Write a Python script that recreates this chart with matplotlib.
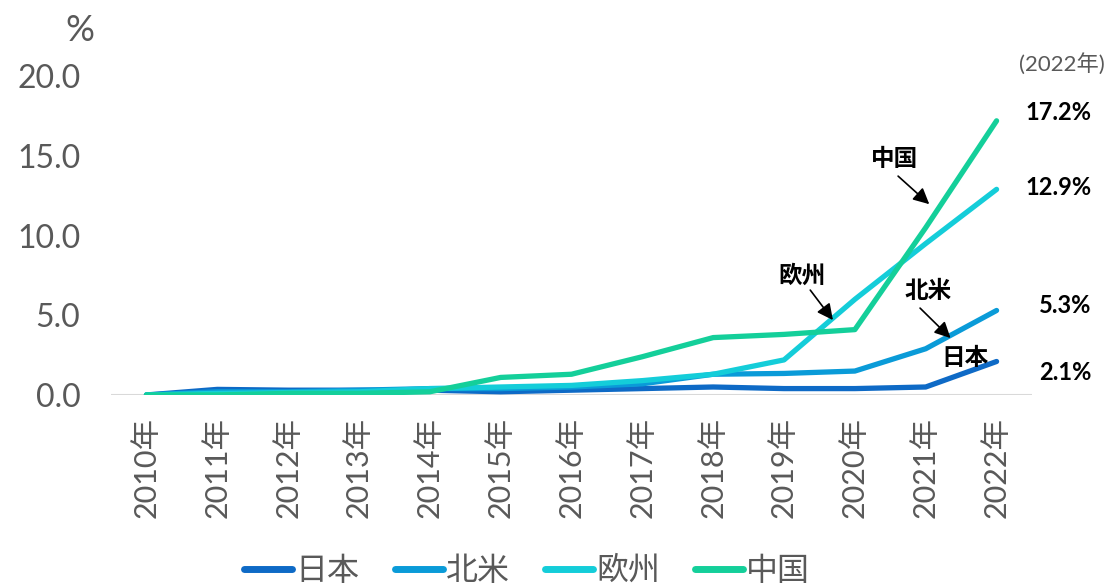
import matplotlib.pyplot as plt
import numpy as np

plt.rcParams['font.family'] = ['Lato', 'Noto Sans CJK JP', 'DejaVu Sans']

years = ["2010年", "2011年", "2012年", "2013年", "2014年", "2015年", "2016年",
         "2017年", "2018年", "2019年", "2020年", "2021年", "2022年"]
regions = ["日本", "北米", "欧州", "中国"]
japan = [0.0, 0.35, 0.3, 0.3, 0.3, 0.2, 0.3, 0.4, 0.5, 0.4, 0.4, 0.5, 2.1]
north_america = [0.0, 0.2, 0.2, 0.3, 0.4, 0.4, 0.5, 0.7, 1.3, 1.35, 1.5, 2.9, 5.3]
europe = [0.0, 0.1, 0.15, 0.2, 0.4, 0.5, 0.6, 0.9, 1.3, 2.2, 6.0, 9.5, 12.9]
china = [0.0, 0.0, 0.1, 0.1, 0.2, 1.1, 1.3, 2.4, 3.6, 3.8, 4.1, 10.5, 17.2]
end_labels = ["2.1%", "5.3%", "12.9%", "17.2%"]

series = [japan, north_america, europe, china]
colors = ['#0E6AC6', '#0A9BD8', '#14CDD9', '#14CF9A']
grey = '#595959'

fig = plt.figure(figsize=(11.08, 5.86), dpi=100)
ax = fig.add_axes([0.1002, 0.326, 0.8312, 0.544])

x = np.arange(len(years))
ax.axhline(0, color='#D9D9D9', linewidth=2.2, zorder=1)
for name, vals, c in zip(regions, series, colors):
    ax.plot(x, vals, color=c, linewidth=3.8, label=name, solid_capstyle='round', zorder=3)

ax.set_xlim(-0.5, 12.5)
ax.set_ylim(0, 20)
ax.set_yticks([0, 5, 10, 15, 20])
ax.set_yticklabels(["0.0", "5.0", "10.0", "15.0", "20.0"])
ax.set_xticks(x)
ax.set_xticklabels(years, rotation=90)
ax.tick_params(axis='y', length=0, pad=22, labelsize=23, labelcolor=grey)
ax.tick_params(axis='x', length=0, pad=16, labelsize=22, labelcolor=grey)
for s in ax.spines.values():
    s.set_visible(False)

# end values
end_y = [1.44, 5.64, 13.04, 17.74]
for lab, yy in zip(end_labels, end_y):
    ax.text(13.34, yy, lab, ha='right', va='center', fontsize=17, fontweight='bold',
            color='black', clip_on=False)

# region labels with arrows
arrow = dict(arrowstyle='-|>', color='black', lw=1.2, mutation_scale=24,
             shrinkA=0, shrinkB=0)
ax.text(10.56, 14.86, "中国", ha='center', va='center', fontsize=17, fontweight='bold')
ax.annotate("", xy=(11.05, 11.97), xytext=(10.61, 13.73), arrowprops=arrow)
ax.text(9.25, 7.52, "欧州", ha='center', va='center', fontsize=17, fontweight='bold')
ax.annotate("", xy=(9.69, 4.70), xytext=(9.37, 6.58), arrowprops=arrow)
ax.text(11.03, 6.58, "北米", ha='center', va='center', fontsize=17, fontweight='bold')
ax.annotate("", xy=(11.35, 3.57), xytext=(10.92, 5.45), arrowprops=arrow)
ax.text(11.56, 2.38, "日本", ha='center', va='center', fontsize=17, fontweight='bold')

ax.text(13.53, 20.8, "(2022年)", ha='right', va='center', fontsize=16, color=grey,
        clip_on=False)
fig.text(0.072, 0.948, "%", ha='center', va='center', fontsize=26, color=grey)

leg = fig.legend(loc='center', bbox_to_anchor=(0.476, 0.026), ncol=4, frameon=False,
                 fontsize=23, labelcolor=grey, handlelength=1.5, handletextpad=0.1,
                 columnspacing=1.1)
for line in leg.get_lines():
    line.set_linewidth(5)

fig.savefig("out.png", dpi=100)
